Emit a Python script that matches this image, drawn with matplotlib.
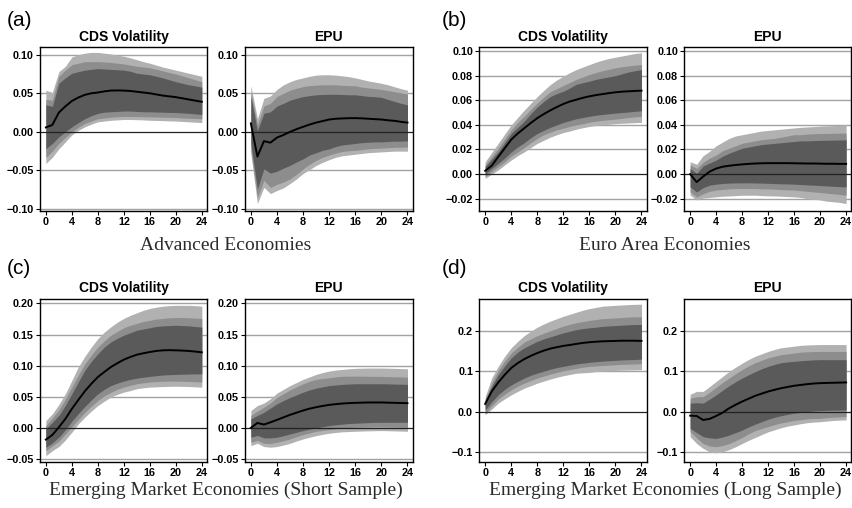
import numpy as np
import matplotlib
matplotlib.use("Agg")
import matplotlib.pyplot as plt

plt.rcParams["font.family"] = ["Liberation Sans", "DejaVu Sans"]

horizon = np.arange(25)

# ---- (a) Advanced Economies ----
a_cds_med = [0.0057, 0.009, 0.025, 0.033, 0.040, 0.0445, 0.048, 0.050, 0.051, 0.0525, 0.0535, 0.0537, 0.0535,
             0.053, 0.052, 0.051, 0.050, 0.0485, 0.047, 0.046, 0.045, 0.0435, 0.042, 0.0405, 0.039]
a_cds_lo95 = [-0.041, -0.033, -0.022, -0.013, -0.004, 0.002, 0.0065, 0.010, 0.013, 0.014, 0.015, 0.0155, 0.016,
              0.016, 0.0158, 0.0155, 0.015, 0.0148, 0.0145, 0.0142, 0.014, 0.0135, 0.013, 0.0125, 0.012]
a_cds_hi95 = [0.054, 0.051, 0.078, 0.085, 0.097, 0.100, 0.102, 0.103, 0.103, 0.102, 0.101, 0.0995, 0.098,
              0.096, 0.0935, 0.091, 0.089, 0.0865, 0.084, 0.082, 0.080, 0.078, 0.076, 0.074, 0.072]
a_cds_lo90 = [-0.033, -0.025, -0.015, -0.007, 0.000, 0.006, 0.011, 0.014, 0.017, 0.018, 0.019, 0.0195, 0.020,
              0.020, 0.0198, 0.0196, 0.0195, 0.0193, 0.019, 0.0188, 0.0187, 0.018, 0.0177, 0.0173, 0.017]
a_cds_hi90 = [0.042, 0.041, 0.072, 0.080, 0.087, 0.089, 0.091, 0.091, 0.091, 0.0905, 0.090, 0.089, 0.088,
              0.0865, 0.085, 0.084, 0.083, 0.081, 0.079, 0.077, 0.075, 0.0725, 0.070, 0.0675, 0.065]
a_cds_lo68 = [-0.022, -0.015, -0.0065, 0.000, 0.0065, 0.012, 0.017, 0.021, 0.024, 0.0255, 0.026, 0.0265, 0.027,
              0.027, 0.0265, 0.026, 0.026, 0.0257, 0.0255, 0.0252, 0.025, 0.0245, 0.024, 0.0233, 0.0226]
a_cds_hi68 = [0.035, 0.033, 0.063, 0.070, 0.076, 0.078, 0.080, 0.081, 0.082, 0.0815, 0.081, 0.0805, 0.080,
              0.0785, 0.076, 0.075, 0.074, 0.072, 0.070, 0.0675, 0.065, 0.063, 0.061, 0.0595, 0.058]

a_epu_med = [0.011, -0.032, -0.012, -0.014, -0.0074, -0.004, 0.000, 0.0035, 0.0065, 0.0095, 0.012, 0.014, 0.016,
             0.017, 0.0174, 0.0177, 0.0178, 0.0175, 0.017, 0.0165, 0.016, 0.015, 0.0143, 0.013, 0.012]
a_epu_hi95 = [0.060, 0.017, 0.0435, 0.0465, 0.055, 0.061, 0.065, 0.068, 0.070, 0.072, 0.0735, 0.074, 0.074,
              0.0735, 0.0726, 0.0715, 0.070, 0.068, 0.066, 0.0645, 0.063, 0.061, 0.0585, 0.056, 0.054]
a_epu_lo95 = [-0.028, -0.093, -0.072, -0.080, -0.076, -0.0726, -0.067, -0.061, -0.054, -0.049, -0.0435, -0.0395,
              -0.036, -0.033, -0.031, -0.030, -0.029, -0.028, -0.027, -0.0265, -0.026, -0.0255, -0.025, -0.025, -0.025]
a_epu_hi90 = [0.052, 0.0087, 0.0335, 0.037, 0.0457, 0.050, 0.054, 0.0565, 0.0587, 0.060, 0.0605, 0.061, 0.061,
              0.061, 0.0603, 0.060, 0.0596, 0.058, 0.057, 0.056, 0.055, 0.0535, 0.052, 0.0505, 0.049]
a_epu_lo90 = [-0.024, -0.085, -0.063, -0.072, -0.068, -0.065, -0.061, -0.055, -0.048, -0.042, -0.037, -0.033,
              -0.030, -0.0275, -0.0255, -0.0245, -0.024, -0.023, -0.022, -0.0215, -0.021, -0.0205, -0.020, -0.020, -0.0196]
a_epu_hi68 = [0.0457, 0.0013, 0.024, 0.026, 0.0335, 0.037, 0.041, 0.0435, 0.0457, 0.047, 0.048, 0.0485, 0.0487,
              0.0487, 0.0485, 0.048, 0.048, 0.047, 0.046, 0.0455, 0.0448, 0.042, 0.0395, 0.037, 0.035]
a_epu_lo68 = [-0.015, -0.074, -0.048, -0.0535, -0.051, -0.047, -0.0435, -0.039, -0.035, -0.030, -0.027, -0.024,
              -0.022, -0.019, -0.017, -0.016, -0.015, -0.014, -0.0135, -0.013, -0.013, -0.0125, -0.012, -0.012, -0.0117]

# ---- (b) Euro Area Economies ----
b_cds_med = [0.0027, 0.0068, 0.014, 0.021, 0.028, 0.033, 0.0373, 0.0415, 0.0455, 0.0488, 0.0518, 0.0545, 0.057,
             0.059, 0.0605, 0.062, 0.0632, 0.0642, 0.065, 0.0658, 0.0665, 0.067, 0.0673, 0.0676, 0.0678]
b_cds_hi95 = [0.010, 0.0175, 0.025, 0.0325, 0.040, 0.046, 0.052, 0.0575, 0.063, 0.068, 0.0728, 0.0765, 0.0796,
              0.0825, 0.085, 0.087, 0.089, 0.091, 0.0926, 0.094, 0.095, 0.096, 0.097, 0.098, 0.0986]
b_cds_lo95 = [-0.0035, 0.000, 0.0033, 0.0075, 0.0114, 0.015, 0.018, 0.0215, 0.025, 0.0275, 0.030, 0.032, 0.0338,
              0.035, 0.0365, 0.0377, 0.0387, 0.0395, 0.040, 0.0405, 0.041, 0.0413, 0.0415, 0.0418, 0.042]
b_cds_hi90 = [0.0074, 0.014, 0.021, 0.0285, 0.036, 0.042, 0.047, 0.0525, 0.0578, 0.0625, 0.067, 0.0695, 0.072,
              0.0745, 0.077, 0.079, 0.081, 0.0825, 0.084, 0.0852, 0.0864, 0.0872, 0.088, 0.0885, 0.089]
b_cds_lo90 = [-0.002, 0.002, 0.006, 0.010, 0.0147, 0.018, 0.0215, 0.0255, 0.029, 0.032, 0.034, 0.036, 0.0373,
              0.0388, 0.040, 0.041, 0.0422, 0.043, 0.0437, 0.0442, 0.0447, 0.0453, 0.046, 0.0465, 0.0469]
b_cds_hi68 = [0.006, 0.012, 0.018, 0.0255, 0.033, 0.038, 0.043, 0.049, 0.0545, 0.059, 0.063, 0.0655, 0.0673,
              0.070, 0.073, 0.0743, 0.0755, 0.077, 0.078, 0.079, 0.080, 0.0815, 0.083, 0.084, 0.085]
b_cds_lo68 = [0.000, 0.0045, 0.0087, 0.013, 0.018, 0.022, 0.0255, 0.0295, 0.033, 0.0355, 0.038, 0.040, 0.042,
              0.0435, 0.045, 0.046, 0.047, 0.0478, 0.0485, 0.049, 0.0496, 0.050, 0.0505, 0.051, 0.0515]

b_epu_med = [0.000, -0.0065, -0.002, 0.002, 0.0045, 0.006, 0.0068, 0.0074, 0.0079, 0.0083, 0.0086, 0.0088, 0.0089,
             0.0089, 0.0089, 0.0089, 0.0088, 0.0087, 0.0086, 0.0086, 0.0085, 0.0084, 0.0084, 0.0083, 0.0083]
b_epu_hi95 = [0.010, 0.008, 0.015, 0.0185, 0.023, 0.026, 0.029, 0.031, 0.032, 0.033, 0.034, 0.035, 0.0355,
              0.036, 0.0365, 0.037, 0.0375, 0.038, 0.0383, 0.0386, 0.039, 0.0392, 0.0394, 0.0396, 0.040]
b_epu_lo95 = [-0.017, -0.021, -0.0195, -0.019, -0.0185, -0.018, -0.0178, -0.0175, -0.0172, -0.0172, -0.0172,
              -0.0175, -0.0177, -0.0178, -0.018, -0.0183, -0.0185, -0.019, -0.020, -0.0205, -0.021, -0.022,
              -0.0225, -0.023, -0.024]
b_epu_hi90 = [0.0074, 0.0046, 0.0096, 0.013, 0.0155, 0.019, 0.021, 0.023, 0.025, 0.026, 0.027, 0.028, 0.0285,
              0.029, 0.030, 0.031, 0.032, 0.032, 0.0325, 0.0328, 0.033, 0.033, 0.0332, 0.0333, 0.0333]
b_epu_lo90 = [-0.0145, -0.0185, -0.016, -0.014, -0.013, -0.0125, -0.012, -0.0118, -0.0117, -0.0117, -0.0118,
              -0.012, -0.012, -0.0123, -0.0126, -0.0128, -0.013, -0.0135, -0.014, -0.0145, -0.015, -0.0155,
              -0.016, -0.0165, -0.0172]
b_epu_hi68 = [0.0046, 0.0005, 0.0066, 0.009, 0.0114, 0.0145, 0.017, 0.019, 0.021, 0.022, 0.023, 0.024, 0.0245,
              0.025, 0.0255, 0.026, 0.0265, 0.027, 0.027, 0.0272, 0.0274, 0.0275, 0.0276, 0.0277, 0.0278]
b_epu_lo68 = [-0.0104, -0.0145, -0.011, -0.009, -0.0082, -0.0076, -0.0073, -0.0072, -0.0071, -0.0071, -0.0072,
              -0.0073, -0.0075, -0.0077, -0.0079, -0.008, -0.0082, -0.0085, -0.0088, -0.009, -0.0093, -0.0096,
              -0.0099, -0.0102, -0.0104]

# ---- (c) Emerging Market Economies, short sample ----
c_cds_med = [-0.0188, -0.0113, 0.001, 0.0145, 0.0306, 0.045, 0.059, 0.071, 0.0817, 0.090, 0.0978, 0.104, 0.1097,
             0.114, 0.1177, 0.120, 0.122, 0.1237, 0.1247, 0.125, 0.1247, 0.1243, 0.1237, 0.1227, 0.1215]
c_cds_hi95 = [0.0118, 0.0226, 0.0376, 0.0548, 0.0763, 0.098, 0.115, 0.130, 0.1435, 0.154, 0.1624, 0.170, 0.176,
              0.181, 0.185, 0.189, 0.192, 0.194, 0.1957, 0.1965, 0.197, 0.197, 0.197, 0.1965, 0.1957]
c_cds_lo95 = [-0.0446, -0.0366, -0.030, -0.0194, -0.007, 0.0065, 0.0172, 0.027, 0.036, 0.043, 0.0495, 0.054,
              0.0575, 0.060, 0.063, 0.0645, 0.0656, 0.066, 0.0665, 0.0668, 0.067, 0.0668, 0.0665, 0.066, 0.0656]
c_cds_hi90 = [0.0038, 0.016, 0.029, 0.046, 0.0656, 0.085, 0.103, 0.117, 0.130, 0.140, 0.149, 0.155, 0.161,
              0.165, 0.168, 0.171, 0.173, 0.175, 0.176, 0.177, 0.1774, 0.1774, 0.177, 0.1765, 0.176]
c_cds_lo90 = [-0.0366, -0.029, -0.0215, -0.010, 0.002, 0.0135, 0.025, 0.035, 0.044, 0.0515, 0.057, 0.062, 0.0656,
              0.0685, 0.071, 0.0725, 0.0737, 0.0745, 0.075, 0.0752, 0.0753, 0.075, 0.0747, 0.0742, 0.0737]
c_cds_hi68 = [-0.0016, 0.009, 0.020, 0.036, 0.0548, 0.074, 0.0925, 0.107, 0.119, 0.130, 0.138, 0.144, 0.149,
              0.153, 0.157, 0.159, 0.161, 0.163, 0.164, 0.1645, 0.165, 0.1645, 0.164, 0.163, 0.162]
c_cds_lo68 = [-0.031, -0.024, -0.015, -0.003, 0.0108, 0.023, 0.0344, 0.045, 0.0548, 0.062, 0.068, 0.072, 0.0753,
              0.078, 0.080, 0.0815, 0.0828, 0.084, 0.085, 0.0855, 0.086, 0.0863, 0.0866, 0.0868, 0.087]

c_epu_med = [0.000, 0.008, 0.0054, 0.009, 0.0129, 0.017, 0.021, 0.0245, 0.028, 0.031, 0.0333, 0.0353, 0.037,
             0.0382, 0.0392, 0.0398, 0.0403, 0.0406, 0.0409, 0.0409, 0.0409, 0.0406, 0.0403, 0.040, 0.0398]
c_epu_hi95 = [0.028, 0.036, 0.040, 0.0468, 0.056, 0.062, 0.068, 0.073, 0.078, 0.082, 0.086, 0.089, 0.0914,
              0.093, 0.094, 0.095, 0.0957, 0.096, 0.0962, 0.0962, 0.0962, 0.096, 0.0957, 0.0953, 0.095]
c_epu_lo95 = [-0.0285, -0.0247, -0.030, -0.031, -0.030, -0.0275, -0.0247, -0.021, -0.0177, -0.015, -0.0124,
              -0.0103, -0.0086, -0.0073, -0.0063, -0.0058, -0.0054, -0.005, -0.0047, -0.0045, -0.0043, -0.0045,
              -0.0048, -0.0051, -0.0054]
c_epu_hi90 = [0.020, 0.027, 0.0333, 0.040, 0.049, 0.055, 0.061, 0.066, 0.071, 0.075, 0.078, 0.0795, 0.0806,
              0.082, 0.083, 0.0832, 0.0833, 0.0832, 0.083, 0.0829, 0.0828, 0.0825, 0.0822, 0.082, 0.0817]
c_epu_lo90 = [-0.023, -0.020, -0.0247, -0.025, -0.023, -0.0205, -0.0177, -0.014, -0.0108, -0.008, -0.0055,
              -0.004, -0.0027, -0.0015, -0.0005, 0.0003, 0.001, 0.0014, 0.0017, 0.0019, 0.002, 0.0018, 0.0015,
              0.0012, 0.001]
c_epu_hi68 = [0.0145, 0.020, 0.025, 0.032, 0.0387, 0.044, 0.049, 0.053, 0.0575, 0.061, 0.064, 0.066, 0.068,
              0.069, 0.070, 0.0705, 0.071, 0.071, 0.071, 0.071, 0.071, 0.0708, 0.0705, 0.0703, 0.070]
c_epu_lo68 = [-0.015, -0.012, -0.016, -0.016, -0.015, -0.0125, -0.0097, -0.007, -0.0043, -0.002, 0.0, 0.002,
              0.0038, 0.005, 0.006, 0.007, 0.0075, 0.008, 0.0085, 0.0088, 0.009, 0.009, 0.009, 0.009, 0.009]

# ---- (d) Emerging Market Economies, long sample ----
d_cds_med = [0.019, 0.050, 0.072, 0.091, 0.108, 0.120, 0.130, 0.138, 0.145, 0.151, 0.156, 0.1595, 0.1627,
             0.165, 0.1676, 0.170, 0.1718, 0.173, 0.174, 0.1745, 0.175, 0.1755, 0.1755, 0.1755, 0.175]
d_cds_hi95 = [0.037, 0.083, 0.112, 0.137, 0.158, 0.174, 0.188, 0.199, 0.209, 0.217, 0.224, 0.230, 0.236,
              0.241, 0.246, 0.251, 0.255, 0.258, 0.261, 0.262, 0.263, 0.264, 0.265, 0.2655, 0.266]
d_cds_lo95 = [-0.008, 0.006, 0.021, 0.0315, 0.0415, 0.050, 0.058, 0.064, 0.0705, 0.0755, 0.0805, 0.085, 0.0888,
              0.092, 0.095, 0.096, 0.097, 0.099, 0.100, 0.101, 0.102, 0.1025, 0.103, 0.1033, 0.1037]
d_cds_hi90 = [0.031, 0.070, 0.102, 0.125, 0.145, 0.159, 0.172, 0.180, 0.188, 0.194, 0.200, 0.206, 0.2116,
              0.216, 0.220, 0.223, 0.2257, 0.228, 0.230, 0.231, 0.232, 0.233, 0.234, 0.2345, 0.235]
d_cds_lo90 = [-0.004, 0.014, 0.031, 0.043, 0.054, 0.063, 0.0705, 0.077, 0.083, 0.088, 0.093, 0.097, 0.101,
              0.104, 0.107, 0.110, 0.112, 0.113, 0.114, 0.115, 0.116, 0.117, 0.1175, 0.118, 0.1187]
d_cds_hi68 = [0.025, 0.062, 0.091, 0.113, 0.133, 0.147, 0.158, 0.166, 0.174, 0.180, 0.185, 0.190, 0.195,
              0.199, 0.203, 0.2055, 0.2075, 0.209, 0.211, 0.212, 0.213, 0.214, 0.215, 0.2155, 0.2158]
d_cds_lo68 = [0.004, 0.024, 0.0415, 0.055, 0.066, 0.075, 0.083, 0.090, 0.0954, 0.100, 0.105, 0.109, 0.112,
              0.115, 0.118, 0.120, 0.122, 0.1235, 0.125, 0.126, 0.127, 0.128, 0.1285, 0.129, 0.130]

d_epu_med = [-0.010, -0.0108, -0.0207, -0.018, -0.0108, -0.0025, 0.0083, 0.017, 0.0249, 0.032, 0.039, 0.0445,
             0.0498, 0.054, 0.058, 0.061, 0.064, 0.066, 0.068, 0.0695, 0.0705, 0.071, 0.0714, 0.0718, 0.0722]
d_epu_hi95 = [0.043, 0.050, 0.050, 0.062, 0.0747, 0.087, 0.0996, 0.110, 0.120, 0.129, 0.137, 0.143, 0.149,
              0.154, 0.158, 0.160, 0.162, 0.164, 0.165, 0.1655, 0.166, 0.166, 0.166, 0.166, 0.166]
d_epu_lo95 = [-0.062, -0.079, -0.091, -0.0996, -0.102, -0.0996, -0.094, -0.087, -0.079, -0.071, -0.064, -0.057,
              -0.050, -0.045, -0.040, -0.036, -0.033, -0.030, -0.0275, -0.026, -0.025, -0.0235, -0.022, -0.021,
              -0.0207]
d_epu_hi90 = [0.033, 0.037, 0.037, 0.048, 0.060, 0.072, 0.083, 0.094, 0.104, 0.113, 0.121, 0.127, 0.133,
              0.137, 0.141, 0.143, 0.145, 0.147, 0.148, 0.1485, 0.149, 0.149, 0.149, 0.149, 0.149]
d_epu_lo90 = [-0.050, -0.065, -0.079, -0.085, -0.087, -0.084, -0.079, -0.072, -0.064, -0.055, -0.047, -0.042,
              -0.037, -0.032, -0.028, -0.025, -0.022, -0.020, -0.018, -0.017, -0.0166, -0.015, -0.014, -0.013,
              -0.0124]
d_epu_hi68 = [0.021, 0.022, 0.021, 0.031, 0.0415, 0.053, 0.064, 0.074, 0.083, 0.091, 0.099, 0.106, 0.112,
              0.117, 0.121, 0.123, 0.1245, 0.126, 0.127, 0.128, 0.1286, 0.1286, 0.1286, 0.1286, 0.1286]
d_epu_lo68 = [-0.0415, -0.052, -0.062, -0.065, -0.0664, -0.063, -0.058, -0.052, -0.0456, -0.038, -0.031,
              -0.025, -0.019, -0.014, -0.010, -0.007, -0.004, -0.002, 0.000, 0.0015, 0.0025, 0.003, 0.0035,
              0.0038, 0.004]

x_ticks = [0, 4, 8, 12, 16, 20, 24]
panel_titles = ["CDS Volatility", "EPU"]
panel_letters = ["(a)", "(b)", "(c)", "(d)"]
captions = ["Advanced Economies", "Euro Area Economies",
            "Emerging Market Economies (Short Sample)", "Emerging Market Economies (Long Sample)"]
y_ticks = {
    "a": [-0.10, -0.05, 0.00, 0.05, 0.10],
    "b": [-0.02, 0.00, 0.02, 0.04, 0.06, 0.08, 0.10],
    "c": [-0.05, 0.00, 0.05, 0.10, 0.15, 0.20],
    "d": [-0.1, 0.0, 0.1, 0.2],
}
y_fmt = {"a": "{:.2f}", "b": "{:.2f}", "c": "{:.2f}", "d": "{:.1f}"}
y_lims = {"a": (-0.1026, 0.110), "b": (-0.030, 0.1033), "c": (-0.0543, 0.208), "d": (-0.124, 0.280)}

groups = {
    "a": [(a_cds_med, a_cds_lo95, a_cds_hi95, a_cds_lo90, a_cds_hi90, a_cds_lo68, a_cds_hi68),
          (a_epu_med, a_epu_lo95, a_epu_hi95, a_epu_lo90, a_epu_hi90, a_epu_lo68, a_epu_hi68)],
    "b": [(b_cds_med, b_cds_lo95, b_cds_hi95, b_cds_lo90, b_cds_hi90, b_cds_lo68, b_cds_hi68),
          (b_epu_med, b_epu_lo95, b_epu_hi95, b_epu_lo90, b_epu_hi90, b_epu_lo68, b_epu_hi68)],
    "c": [(c_cds_med, c_cds_lo95, c_cds_hi95, c_cds_lo90, c_cds_hi90, c_cds_lo68, c_cds_hi68),
          (c_epu_med, c_epu_lo95, c_epu_hi95, c_epu_lo90, c_epu_hi90, c_epu_lo68, c_epu_hi68)],
    "d": [(d_cds_med, d_cds_lo95, d_cds_hi95, d_cds_lo90, d_cds_hi90, d_cds_lo68, d_cds_hi68),
          (d_epu_med, d_epu_lo95, d_epu_hi95, d_epu_lo90, d_epu_hi90, d_epu_lo68, d_epu_hi68)],
}

band_colors = ["#b1b1b1", "#8d8d8d", "#5a5a5a"]

W, H = 852, 508
fig = plt.figure(figsize=(W / 100, H / 100), dpi=100)
fig.patch.set_facecolor("white")

col_edges = [[(40, 207), (245, 412.7)], [(479.3, 646.7), (684.3, 851.3)]]
row_edges = [(47, 211), (298.5, 461.7)]
group_pos = {"a": (0, 0), "b": (0, 1), "c": (1, 0), "d": (1, 1)}


def px_axes(left, right, top, bottom):
    return fig.add_axes([left / W, 1 - bottom / H, (right - left) / W, (bottom - top) / H])


for gi, key in enumerate(["a", "b", "c", "d"]):
    r, c = group_pos[key]
    top, bottom = row_edges[r]
    for k in range(2):
        left, right = col_edges[c][k]
        ax = px_axes(left, right, top, bottom)
        med, lo95, hi95, lo90, hi90, lo68, hi68 = groups[key][k]
        for yv in y_ticks[key]:
            if abs(yv) < 1e-12:
                continue
            ax.axhline(yv, color="#a3a3a3", lw=1.0, zorder=0.5)
        ax.fill_between(horizon, lo95, hi95, color=band_colors[0], lw=0, zorder=1)
        ax.fill_between(horizon, lo90, hi90, color=band_colors[1], lw=0, zorder=1.1)
        ax.fill_between(horizon, lo68, hi68, color=band_colors[2], lw=0, zorder=1.2)
        ax.axhline(0.0, color="#222222", lw=0.9, zorder=2)
        ax.plot(horizon, med, color="black", lw=1.4, zorder=3)
        ax.set_xlim(-0.9, 24.8)
        ax.set_ylim(*y_lims[key])
        ax.set_xticks(x_ticks)
        ax.set_xticklabels([str(t) for t in x_ticks])
        ax.set_yticks(y_ticks[key])
        ax.set_yticklabels([y_fmt[key].format(v).replace("-", "\u2212") for v in y_ticks[key]])
        ax.tick_params(axis="both", direction="out", length=3, width=0.8, labelsize=7.8, pad=1.5,
                       colors="black")
        for lab in ax.get_xticklabels() + ax.get_yticklabels():
            lab.set_fontweight("bold")
        for sp in ax.spines.values():
            sp.set_linewidth(1.0)
            sp.set_color("black")
        ax.set_title(panel_titles[k], fontsize=10, fontweight="bold", pad=4.5)

    # panel letter and caption
    letter_x = 7 if c == 0 else 442
    letter_y = 20 if r == 0 else 268
    fig.text(letter_x / W, 1 - letter_y / H, panel_letters[gi], fontsize=15, va="center", ha="left")
    cap_x = 226 if c == 0 else 665
    cap_y = 245 if r == 0 else 490
    fig.text(cap_x / W, 1 - cap_y / H, captions[gi], fontsize=14, ha="center", va="center",
             family=["Liberation Serif", "DejaVu Serif"], color="#2b2b2b")

fig.savefig("out.png", dpi=100, facecolor="white")
